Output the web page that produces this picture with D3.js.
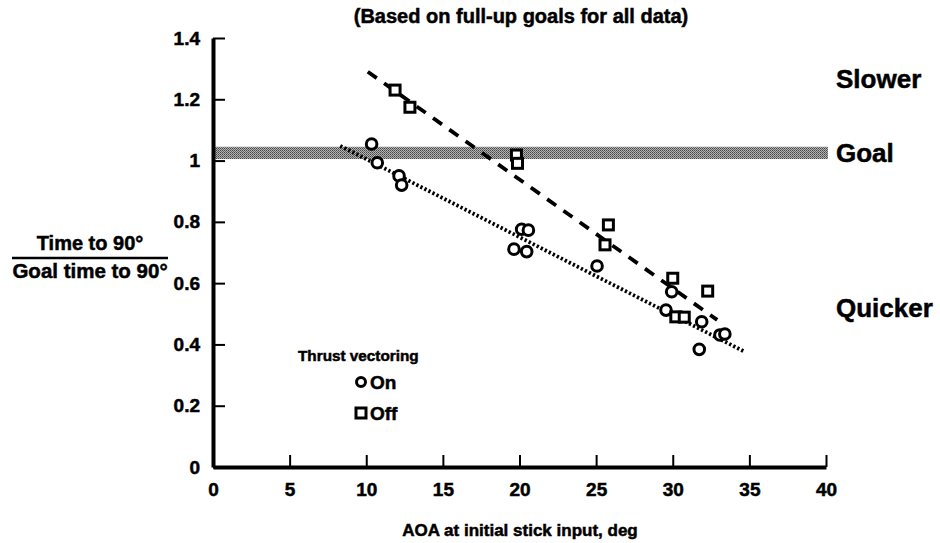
<!DOCTYPE html>
<html lang="en">
<head>
<meta charset="UTF-8">
<title>Time to 90 deg vs AOA</title>
<script src="https://cdn.jsdelivr.net/npm/d3@7"></script>
<style>
  body { margin: 0; background: #fff; }
  text { font-family: "Liberation Sans", Arial, sans-serif; font-weight: bold; fill: #000;
         stroke: #000; stroke-width: 0.5px; }
</style>
</head>
<body>
<script>
// data
var onX  = [10.35, 10.72, 12.14, 12.31, 19.64, 20.14, 20.58, 20.47, 25.06, 29.56, 29.93, 31.89, 31.73, 33.08, 33.4];
var onY  = [1.054, 0.993, 0.95, 0.92, 0.711, 0.776, 0.773, 0.703, 0.656, 0.512, 0.572, 0.474, 0.384, 0.431, 0.434];
var offX = [11.88, 12.85, 19.8, 19.87, 25.8, 25.58, 30.0, 32.28, 30.2, 30.75];
var offY = [1.23, 1.174, 1.018, 0.991, 0.79, 0.725, 0.616, 0.574, 0.49, 0.489];
// fit lines (end points)
var fitOnX  = [8.3, 34.7],  fitOnY  = [1.048, 0.376];
var fitOffX = [10.1, 32.9], fitOffY = [1.29, 0.48];
var goalBand = [1.005, 1.045];
var xTicks = [0, 5, 10, 15, 20, 25, 30, 35, 40];
var yTicks = [0, 0.2, 0.4, 0.6, 0.8, 1, 1.2, 1.4];

var width = 940, height = 543;
var svg = d3.select("body").append("svg")
    .attr("width", width).attr("height", height);

var x = d3.scaleLinear().domain([0, 40]).range([213, 826]);
var y = d3.scaleLinear().domain([0, 1.4]).range([467, 38]);

// stipple pattern for goal band
var pat = svg.append("defs").append("pattern")
    .attr("id", "stip").attr("width", 2).attr("height", 2)
    .attr("patternUnits", "userSpaceOnUse");
pat.append("rect").attr("width", 2).attr("height", 2).attr("fill", "#b4b4b4");
pat.append("rect").attr("width", 1).attr("height", 1).attr("fill", "#444");
pat.append("rect").attr("x", 1).attr("y", 1).attr("width", 1).attr("height", 1).attr("fill", "#666");

svg.append("rect")
    .attr("x", x(0)).attr("y", y(goalBand[1]))
    .attr("width", x(40.13) - x(0))
    .attr("height", y(goalBand[0]) - y(goalBand[1]))
    .attr("fill", "url(#stip)");

// axes
var xAxis = svg.append("g").attr("transform", "translate(0," + y(0) + ")")
    .call(d3.axisBottom(x).tickValues(xTicks).tickSizeInner(-12).tickSizeOuter(0).tickPadding(16));
var yAxis = svg.append("g").attr("transform", "translate(" + x(0) + ",0)")
    .call(d3.axisLeft(y).tickValues(yTicks).tickSizeInner(-12).tickSizeOuter(0).tickPadding(13)
        .tickFormat(function(d) { return d === 0 || d === 1 ? d3.format("d")(d) : d3.format(".1f")(d); }));

[xAxis, yAxis].forEach(function(a) {
  a.select(".domain").attr("stroke", "#000").attr("stroke-width", 4);
  a.selectAll(".tick line").attr("stroke", "#000").attr("stroke-width", 2);
  a.selectAll(".tick text").style("font-size", "19px").style("font-family", "'Liberation Sans', Arial, sans-serif")
    .style("font-weight", "bold").attr("fill", "#000");
});

// fit lines
var line = d3.line().x(function(d) { return x(d[0]); }).y(function(d) { return y(d[1]); });
svg.append("path")
    .attr("d", line(d3.zip(fitOffX, fitOffY)))
    .attr("fill", "none").attr("stroke", "#000").attr("stroke-width", 3.8)
    .attr("stroke-dasharray", "11,9");
svg.append("path")
    .attr("d", line(d3.zip(fitOnX, fitOnY)))
    .attr("fill", "none").attr("stroke", "#000").attr("stroke-width", 3.8)
    .attr("stroke-dasharray", "2.3,2.2");

// markers
svg.append("g").selectAll("circle").data(d3.zip(onX, onY)).enter().append("circle")
    .attr("cx", function(d) { return x(d[0]); })
    .attr("cy", function(d) { return y(d[1]); })
    .attr("r", 5.3).attr("fill", "#fff").attr("stroke", "#000").attr("stroke-width", 3);

svg.append("g").selectAll("rect").data(d3.zip(offX, offY)).enter().append("rect")
    .attr("x", function(d) { return x(d[0]) - 5; })
    .attr("y", function(d) { return y(d[1]) - 5; })
    .attr("width", 10).attr("height", 10)
    .attr("fill", "#fff").attr("stroke", "#000").attr("stroke-width", 3);

// titles
svg.append("text").attr("x", 521).attr("y", 23).attr("text-anchor", "middle")
    .style("font-size", "20px").text("(Based on full-up goals for all data)");
svg.append("text").attr("x", 520).attr("y", 536).attr("text-anchor", "middle")
    .style("font-size", "17px").text("AOA at initial stick input, deg");

svg.append("text").attr("x", 90).attr("y", 250).attr("text-anchor", "middle")
    .style("font-size", "20px").text("Time to 90°");
svg.append("line").attr("x1", 12).attr("x2", 168).attr("y1", 258).attr("y2", 258)
    .attr("stroke", "#000").attr("stroke-width", 2.5);
svg.append("text").attr("x", 90).attr("y", 278).attr("text-anchor", "middle")
    .style("font-size", "20.5px").text("Goal time to 90°");

svg.append("text").attr("x", 836).attr("y", 88).style("font-size", "26px").text("Slower");
svg.append("text").attr("x", 836).attr("y", 162).style("font-size", "26px").text("Goal");
svg.append("text").attr("x", 836).attr("y", 317).style("font-size", "26px").text("Quicker");

// legend
svg.append("text").attr("x", 298).attr("y", 361).style("font-size", "15.3px").text("Thrust vectoring");
svg.append("circle").attr("cx", 361).attr("cy", 382).attr("r", 4.5)
    .attr("fill", "#fff").attr("stroke", "#000").attr("stroke-width", 3);
svg.append("text").attr("x", 370).attr("y", 389).style("font-size", "19px").text("On");
svg.append("rect").attr("x", 356).attr("y", 408).attr("width", 10).attr("height", 10)
    .attr("fill", "#fff").attr("stroke", "#000").attr("stroke-width", 3);
svg.append("text").attr("x", 370).attr("y", 420).style("font-size", "19px").text("Off");
</script>
</body>
</html>
